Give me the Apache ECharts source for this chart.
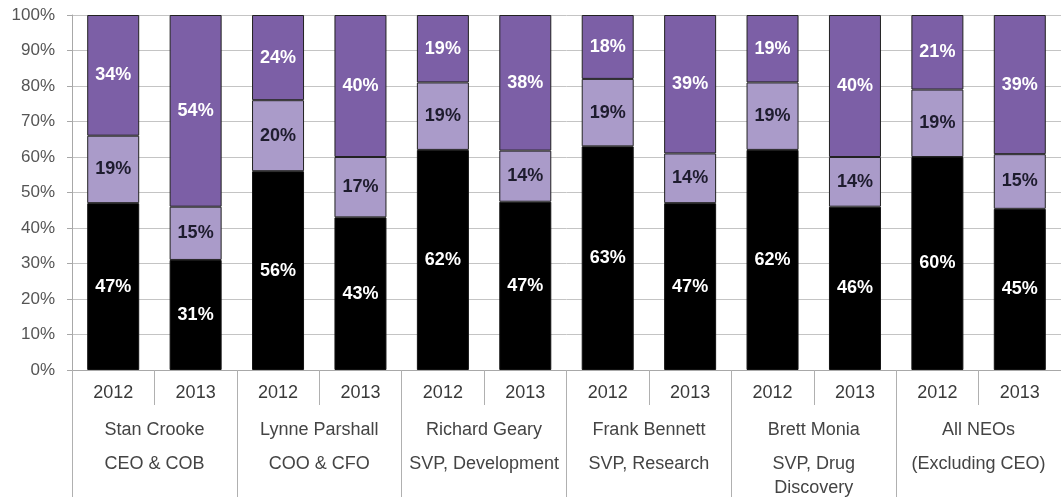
<!DOCTYPE html>
<html>
<head>
<meta charset="utf-8">
<script src="https://cdn.jsdelivr.net/npm/echarts@6/dist/echarts.min.js"></script>
<style>html,body{margin:0;padding:0;background:#fff;}#c{width:1061px;height:497px;}</style>
</head>
<body>
<div id="c"></div>
<script>
var years = ['2012','2013','2012','2013','2012','2013','2012','2013','2012','2013','2012','2013'];
var names = ['Stan Crooke','Lynne Parshall','Richard Geary','Frank Bennett','Brett Monia','All NEOs'];
var titles = ['CEO & COB','COO & CFO','SVP, Development','SVP, Research','SVP, Drug\nDiscovery','(Excluding CEO)'];
var blackVals  = [47, 31, 56, 43, 62, 47.4, 63, 47, 62, 46, 60, 45.4];
var lightVals  = [19, 15, 20, 17, 19, 14.4, 19, 14, 19, 14, 19, 15.4];
var purpleVals = [34, 54, 24, 40, 19, 38.2, 18, 39, 19, 40, 21, 39.2];
var yTicks = [0,10,20,30,40,50,60,70,80,90,100];

var chart = echarts.init(document.getElementById('c'));
var font = 'Liberation Sans, Arial, sans-serif';
function lbl(color){
  return {show:true, position:'inside', color:color, fontFamily:font, fontWeight:'bold', fontSize:18,
    formatter:function(p){return Math.round(p.value)+'%';}};
}
var groupLabels = names.map(function(n,i){
  return '{n|'+n+'}\n' + titles[i].split('\n').map(function(t){return '{t|'+t+'}';}).join('\n');
});
chart.setOption({
  animation:false,
  grid:{left:72, right:-10, top:15, bottom:127, containLabel:false},
  xAxis:[{
    type:'category', data:years, position:'bottom',
    axisLine:{show:true, lineStyle:{color:'#a8a8a8'}},
    axisTick:{show:true, length:35, interval:0, lineStyle:{color:'#b0b0b0'}},
    axisLabel:{interval:0, margin:14, color:'#3a3a3a', fontFamily:font, fontSize:18}
  },{
    type:'category', data:groupLabels, position:'bottom',
    axisLine:{show:false},
    axisTick:{show:true, length:127, interval:0, lineStyle:{color:'#b0b0b0'}},
    axisLabel:{interval:0, margin:38, color:'#444', fontFamily:font, fontSize:18,
      rich:{n:{fontFamily:font, fontSize:18, color:'#444', lineHeight:44},
            t:{fontFamily:font, fontSize:18, color:'#444', lineHeight:24}}}
  }],
  yAxis:{
    type:'value', min:yTicks[0], max:yTicks[yTicks.length-1], interval:10,
    axisLine:{show:true, lineStyle:{color:'#a8a8a8'}},
    axisTick:{show:true, length:5, lineStyle:{color:'#a8a8a8'}},
    splitLine:{show:true, lineStyle:{color:'#c4c4c4'}},
    axisLabel:{formatter:'{value}%', margin:17, color:'#555', fontFamily:font, fontSize:17}
  },
  series:[
    {type:'bar', stack:'s', data:blackVals, barWidth:52, xAxisIndex:0,
      itemStyle:{color:'#000', borderColor:'#111', borderWidth:1}, label:lbl('#fff')},
    {type:'bar', stack:'s', data:lightVals, barWidth:52, xAxisIndex:0,
      itemStyle:{color:'#aa9bc9', borderColor:'#222', borderWidth:1}, label:lbl('#1e1c2e')},
    {type:'bar', stack:'s', data:purpleVals, barWidth:52, xAxisIndex:0,
      itemStyle:{color:'#7c5fa6', borderColor:'#222', borderWidth:1}, label:lbl('#fff')}
  ]
});
</script>
</body>
</html>
